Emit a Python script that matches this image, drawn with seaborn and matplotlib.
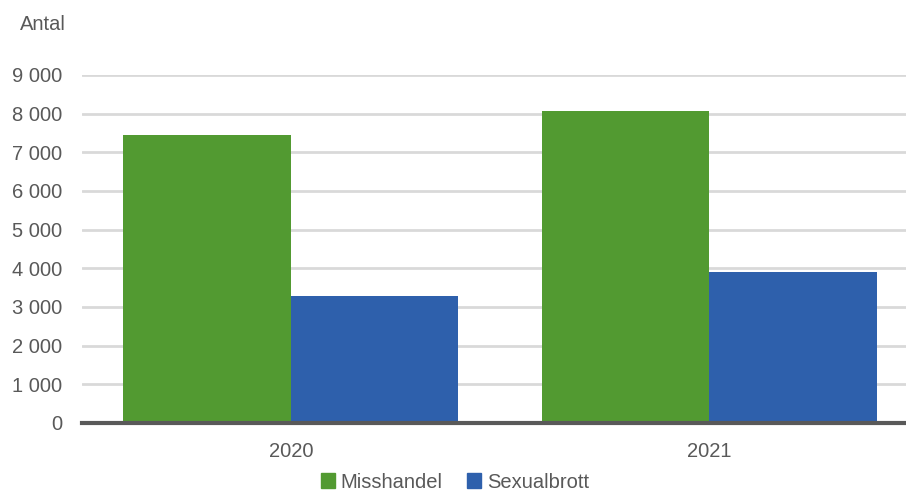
import pandas as pd
import seaborn as sns
import matplotlib.pyplot as plt
from matplotlib.ticker import FuncFormatter

years = ['2020', '2021']
misshandel = [7440, 8060]
sexualbrott = [3280, 3910]
series_names = ['Misshandel', 'Sexualbrott']
y_ticks = [0, 1000, 2000, 3000, 4000, 5000, 6000, 7000, 8000, 9000]

sns.set_theme(style='white')
plt.rcParams['font.family'] = ['Liberation Sans', 'DejaVu Sans']

TEXT = '#595959'
GREEN = '#529A31'
BLUE = '#2E60AC'


def build_frame():
    '''long-form table for seaborn'''
    rows = []
    for i, year in enumerate(years):
        rows.append({'Year': year, 'Brott': series_names[0],
                     'Antal': misshandel[i]})
        rows.append({'Year': year, 'Brott': series_names[1],
                     'Antal': sexualbrott[i]})
    return pd.DataFrame(rows)


def main():
    df = build_frame()
    fig = plt.figure(figsize=(9.06, 4.9), dpi=100)
    ax = fig.add_axes([0.09, 0.137, 0.91, 0.71])

    sns.barplot(data=df, x='Year', y='Antal', hue='Brott',
                palette=[GREEN, BLUE], width=0.8, saturation=1,
                linewidth=0, ax=ax, zorder=3)

    ax.set_ylim(0, 9000)
    ax.set_xlim(-0.5, 1.47)
    ax.set_yticks(y_ticks)
    ax.yaxis.set_major_formatter(
        FuncFormatter(lambda v, p: f'{int(v):,}'.replace(',', ' ')))
    ax.grid(axis='y', color='#D9D9D9', linewidth=2, zorder=0)
    ax.set_axisbelow(True)
    for side in ['top', 'right', 'left']:
        ax.spines[side].set_visible(False)
    ax.spines['bottom'].set_color(TEXT)
    ax.spines['bottom'].set_linewidth(3)
    ax.spines['bottom'].set_zorder(5)

    ax.tick_params(axis='y', length=0, pad=14, labelsize=14.5,
                   labelcolor=TEXT)
    ax.tick_params(axis='x', length=0, pad=14, labelsize=14.5,
                   labelcolor=TEXT)
    ax.set_xlabel('')
    ax.set_ylabel('')

    fig.text(20 / 906, 1 - 25 / 490, 'Antal', fontsize=14.5, color=TEXT,
             ha='left', va='center')

    ax.legend_.remove()
    handles = [plt.Rectangle((0, 0), 1, 1, color=c) for c in [GREEN, BLUE]]
    fig.legend(handles, series_names, loc='center',
               bbox_to_anchor=(455 / 906, 1 - 482 / 490), ncol=2,
               frameon=False, fontsize=14.5, labelcolor=TEXT,
               handlelength=0.7, handleheight=0.7, handletextpad=0.3,
               columnspacing=1.2)

    fig.savefig('out.png', dpi=100)


if __name__ == '__main__':
    main()
